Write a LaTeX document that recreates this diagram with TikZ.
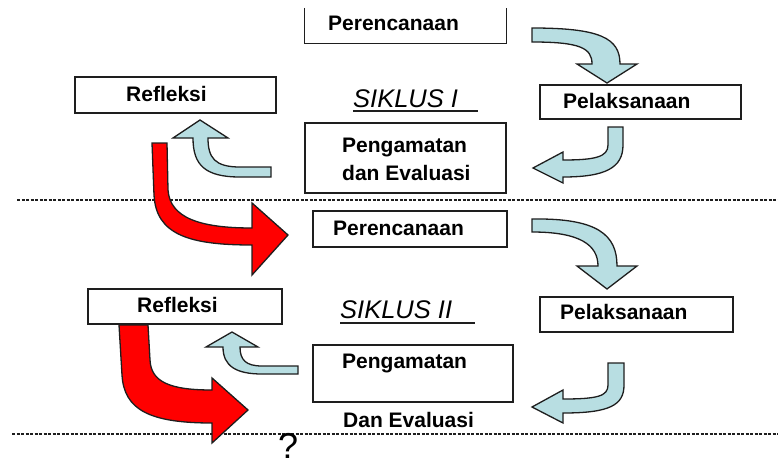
\documentclass[tikz,border=0pt]{standalone}
\usepackage{fontspec}
\setmainfont{Liberation Sans}
\definecolor{arrblue}{RGB}{184,222,226}
\definecolor{arrred}{RGB}{255,0,0}
\definecolor{edge}{RGB}{30,30,30}
\begin{document}
\begin{tikzpicture}[x=1pt,y=-1pt,
  box/.style={draw=edge,line width=1.3pt,fill=white,inner sep=0pt},
  lbl/.style={inner sep=0pt,anchor=base west,font=\fontsize{21}{23}\selectfont\bfseries},
  siklus/.style={inner sep=0pt,anchor=base west,font=\fontsize{25.5}{27}\selectfont\itshape},
  uline/.style={draw=edge,line width=2.2pt},
  bluearr/.style={fill=arrblue,draw=edge,line width=1.3pt,line join=miter},
  redarr/.style={fill=arrred,draw=edge,line width=1.3pt,line join=miter},
  sep/.style={draw=edge,line width=1.6pt,dash pattern=on 3pt off 1.5pt}]
\useasboundingbox (0,0) rectangle (778,466);

% separators
\coordinate (s1a) at (17,200); \coordinate (s1b) at (778,200);
\coordinate (s2a) at (12,434); \coordinate (s2b) at (778,434);
\draw[sep] (s1a) -- (s1b);
\draw[sep] (s2a) -- (s2b);

% ---------- Cycle I ----------
\node[inner sep=0pt,minimum width=201pt,minimum height=35pt] (per1) at (405.5,25.5) {};
\draw[edge,line width=1.3pt] (per1.north west) |- (per1.south east) -- (per1.north east);
\node[lbl] (per1t) at (328,30) {Perencanaan};

\node[box,minimum width=201pt,minimum height=36pt] (ref1) at (175.5,95) {};
\node[lbl] (ref1t) at (126,101) {Refleksi};

\node[siklus] (sik1) at (353,107) {SIKLUS I};
\coordinate (u1a) at (353,111); \coordinate (u1b) at (478,111);
\draw[uline] (u1a) -- (u1b);

\node[box,minimum width=201pt,minimum height=34pt] (pel1) at (640.5,102) {};
\node[lbl] (pel1t) at (563,108) {Pelaksanaan};

\node[box,minimum width=201pt,minimum height=70pt] (pen1) at (405.5,158) {};
\node[lbl] (pen1t) at (342,152) {Pengamatan};
\node[lbl] (pen1u) at (342,180) {dan Evaluasi};

% blue arrows cycle I
\draw[bluearr] (532,28) .. controls (600,28) and (620,38) .. (620,64) -- (637,64) -- (607,83) -- (577,64) -- (592,64) .. controls (592,48) and (580,42) .. (532,42) -- cycle;
\draw[bluearr] (608,127) -- (608,145) .. controls (608,157) and (595,160) .. (563,160) -- (563,152) -- (533,168) -- (563,183) -- (563,177) .. controls (605,177) and (623,168) .. (623,145) -- (623,127) -- cycle;
\draw[bluearr] (271,167) -- (240,167) .. controls (215,167) and (208,158) .. (208,138) -- (228,138) -- (200,120) -- (173,138) -- (193,138) .. controls (193,165) and (205,177) .. (240,177) -- (271,177) -- cycle;

% red arrow I -> II
\draw[redarr] (152,143) -- (154,195) .. controls (156,235) and (190,245) .. (252,245) -- (252,275) -- (288,235) -- (252,203) -- (252,228) .. controls (200,228) and (170,218) .. (168,190) -- (167,143) -- cycle;

% ---------- Cycle II ----------
\node[box,minimum width=194pt,minimum height=36pt] (per2) at (410,229) {};
\node[lbl] (per2t) at (333,235) {Perencanaan};

\node[box,minimum width=194pt,minimum height=35pt] (ref2) at (185,306.5) {};
\node[lbl] (ref2t) at (137,312) {Refleksi};

\node[siklus] (sik2) at (340,318) {SIKLUS II};
\coordinate (u2a) at (340,323); \coordinate (u2b) at (475,323);
\draw[uline] (u2a) -- (u2b);

\node[box,minimum width=193pt,minimum height=35pt] (pel2) at (636.5,314.5) {};
\node[lbl] (pel2t) at (560,319) {Pelaksanaan};

\node[box,minimum width=200pt,minimum height=57pt] (pen2) at (413,373.5) {};
\node[lbl] (pen2t) at (342,368) {Pengamatan};
\node[lbl] (pen2u) at (343,427) {Dan Evaluasi};

% blue arrows cycle II
\draw[bluearr] (532,219) .. controls (598,218) and (617,235) .. (617,266) -- (637,266) -- (607,289) -- (577,266) -- (598,266) .. controls (598,245) and (580,232) .. (532,232) -- cycle;
\draw[bluearr] (608,363) -- (608,385) .. controls (608,396) and (598,399) .. (563,399) -- (563,390) -- (532,407) -- (563,423) -- (563,413) .. controls (610,413) and (624,405) .. (624,385) -- (624,363) -- cycle;
\draw[bluearr] (298,366) -- (262,366) .. controls (246,366) and (240,360) .. (240,347) -- (258,347) -- (232,332) -- (206,347) -- (223,347) .. controls (223,366) and (236,374) .. (262,374) -- (298,374) -- cycle;

% red arrow II -> next
\draw[redarr] (119,325) -- (122,375) .. controls (124,410) and (150,423) .. (212,423) -- (212,443) -- (248,410) -- (212,378) -- (212,390) .. controls (170,390) and (151,382) .. (150,360) -- (148,325) -- cycle;

\node[inner sep=0pt,anchor=base west,font=\fontsize{36}{38}\selectfont] (q) at (278,458) {?};
\end{tikzpicture}
\end{document}
